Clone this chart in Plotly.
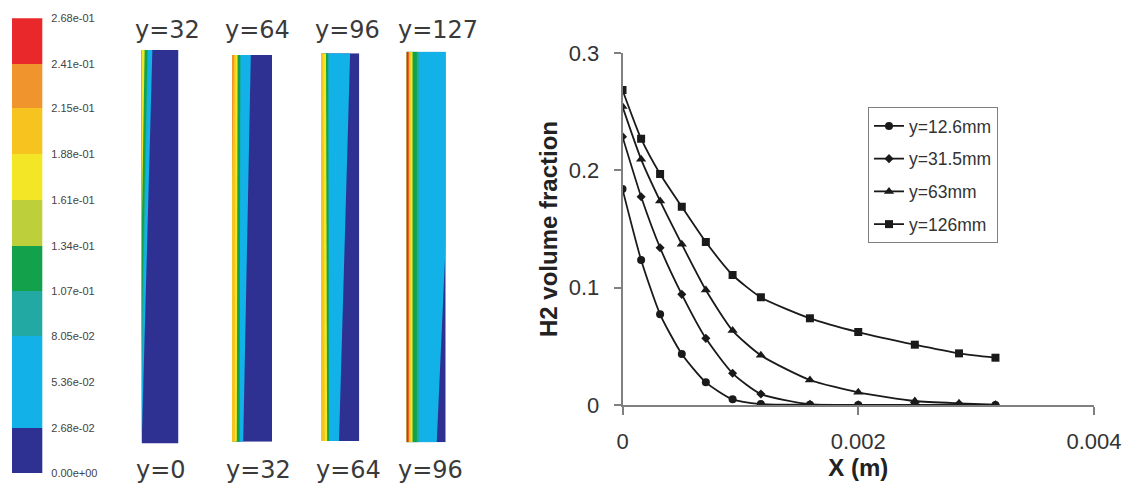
import plotly.graph_objects as go

# ---------------- colour scale (left) ----------------
level_values = [0.0, 0.0268, 0.0536, 0.0805, 0.107, 0.134, 0.161, 0.188, 0.215, 0.241, 0.268]
level_labels = ["0.00e+00", "2.68e-02", "5.36e-02", "8.05e-02", "1.07e-01", "1.34e-01",
                "1.61e-01", "1.88e-01", "2.15e-01", "2.41e-01", "2.68e-01"]
band_colors = ["#2E3192", "#12B2E9", "#12B2E9", "#22A9A3", "#13A24B", "#BDD03B",
               "#F3E626", "#F6C31F", "#F0952D", "#E8282B"]

# ---------------- contour strips ----------------
strip_top_labels = ["y=32", "y=64", "y=96", "y=127"]
strip_bottom_labels = ["y=0", "y=32", "y=64", "y=96"]
strip_y_bottom = [0, 32, 64, 96]
strip_y_top = [32, 64, 96, 127]
# each strip: band colour index (into band_colors), drawn back to front,
# and the band's right edge as a fraction of strip width at top / bottom
strip1_band = [2, 3, 4, 6]
strip1_edge_top = [0.29, 0.17, 0.155, 0.08]
strip1_edge_bottom = [0.0, -0.02, -0.06, -0.09]
strip2_band = [2, 4, 6, 7, 8]
strip2_edge_top = [0.47, 0.21, 0.14, 0.09, 0.05]
strip2_edge_bottom = [0.28, 0.19, 0.12, 0.07, -0.10]
strip3_band = [2, 4, 6, 7]
strip3_edge_top = [0.76, 0.19, 0.13, 0.06]
strip3_edge_bottom = [0.47, 0.21, 0.16, 0.10]
strip4_band = [2, 3, 4, 6, 7, 9]
strip4_edge_top = [1.22, 0.31, 0.26, 0.15, 0.10, 0.05]
strip4_edge_bottom = [0.77, 0.31, 0.26, 0.15, 0.10, 0.05]

# ---------------- H2 profiles (right) ----------------
x_m = [0, 0.000158, 0.000319, 0.000503, 0.000707, 0.000934, 0.001174,
       0.00159, 0.002, 0.00248, 0.002855, 0.003164]
h2_y12_6 = [0.184, 0.1236, 0.0773, 0.0435, 0.0193, 0.0048, 0.0008, 0.0002, 0, 0, 0, 0]
h2_y31_5 = [0.2287, 0.1775, 0.134, 0.0943, 0.0568, 0.027, 0.0094, 0.0006, 0.0001, 0, 0, 0]
h2_y63 = [0.2543, 0.2094, 0.1739, 0.137, 0.098, 0.0634, 0.0423, 0.0213, 0.0108, 0.0034, 0.0014, 0.0003]
h2_y126 = [0.2685, 0.227, 0.1969, 0.169, 0.1389, 0.1108, 0.0918, 0.0739, 0.0622, 0.0514, 0.044, 0.0403]
series_names = ["y=12.6mm", "y=31.5mm", "y=63mm", "y=126mm"]
series_values = [h2_y12_6, h2_y31_5, h2_y63, h2_y126]
series_symbols = ["circle", "diamond", "triangle-up", "square"]
x_ticks = [0, 0.002, 0.004]
x_tick_text = ["0", "0.002", "0.004"]
y_ticks = [0, 0.1, 0.2, 0.3]
y_tick_text = ["0", "0.1", "0.2", "0.3"]

W, H = 1130, 489
fig = go.Figure()

# ---- profile lines ----
sizes = [8, 7, 9, 8]
for name, vals, sym, sz in zip(series_names, series_values, series_symbols, sizes):
    fig.add_trace(go.Scatter(
        x=x_m, y=vals, name=name, mode="lines+markers",
        line=dict(color="#1a1a1a", width=1.8, shape="spline", smoothing=0.6),
        marker=dict(symbol=sym, size=sz, color="#1a1a1a"),
        legendgroup=name, xaxis="x", yaxis="y"))

# ---- strips ----
strips = [(strip1_band, strip1_edge_top, strip1_edge_bottom),
          (strip2_band, strip2_edge_top, strip2_edge_bottom),
          (strip3_band, strip3_edge_top, strip3_edge_bottom),
          (strip4_band, strip4_edge_top, strip4_edge_bottom)]
for i, (bands, etop, ebot) in enumerate(strips):
    ax = str(i + 2)
    yt, yb = strip_y_top[i], strip_y_bottom[i]
    fig.add_trace(go.Scatter(
        x=[0, 1, 1, 0], y=[yt, yt, yb, yb], fill="toself", mode="lines",
        line=dict(width=0), fillcolor=band_colors[0], showlegend=False,
        hoverinfo="skip", xaxis="x" + ax, yaxis="y" + ax))
    for b, et, eb in zip(bands, etop, ebot):
        fig.add_trace(go.Scatter(
            x=[-1, et, eb, -1], y=[yt, yt, yb, yb], fill="toself", mode="lines",
            line=dict(width=0), fillcolor=band_colors[b], showlegend=False,
            hoverinfo="skip", xaxis="x" + ax, yaxis="y" + ax))

# ---- colour bar ----
fig.add_trace(go.Bar(
    x=[0] * (len(level_values) - 1),
    y=[level_values[k + 1] - level_values[k] for k in range(len(level_values) - 1)],
    base=level_values[:-1], width=1,
    marker=dict(color=band_colors, line=dict(width=0)),
    showlegend=False, hoverinfo="skip", xaxis="x6", yaxis="y6"))

tick_font = dict(family="Liberation Sans, Arial", size=22, color="#333333")
title_font = dict(family="Liberation Sans, Arial", size=24, color="#222222", weight="bold")

layout = dict(
    width=W, height=H, margin=dict(l=0, r=0, t=0, b=0, autoexpand=False),
    paper_bgcolor="white", plot_bgcolor="white", showlegend=True,
    xaxis=dict(domain=[622.5 / W, 1094 / W], range=[0, 0.004], tickvals=x_ticks,
               ticktext=x_tick_text, showline=True, linecolor="#808080", linewidth=1.5,
               ticks="outside", ticklen=8, tickcolor="#808080", tickwidth=1.5,
               showgrid=False, zeroline=False, tickfont=tick_font, ticklabelstandoff=8,
               automargin=False,
               title=dict(text="X (m)", font=title_font, standoff=2), anchor="y"),
    yaxis=dict(domain=[(H - 405) / H, (H - 53) / H], range=[0, 0.3], tickvals=y_ticks,
               ticktext=y_tick_text, showline=True, linecolor="#808080", linewidth=1.5,
               ticks="outside", ticklen=7, tickcolor="#808080", tickwidth=1.5,
               showgrid=False, zeroline=False, tickfont=tick_font, ticklabelstandoff=10,
               automargin=False,
               title=dict(text="H2 volume fraction", font=title_font, standoff=4), anchor="x"),
    legend=dict(x=868 / W, y=1 - 107 / H, xanchor="left", yanchor="top",
                bordercolor="#808080", borderwidth=1, bgcolor="white",
                font=dict(family="Liberation Sans, Arial", size=17.5, color="#333333"),
                traceorder="grouped", tracegroupgap=7),
    bargap=0,
)

strip_px = [(141.7, 178.5, 50.0, 443.5), (232.0, 272.0, 55.0, 441.7),
            (321.0, 359.3, 53.3, 441.0), (406.7, 445.7, 51.7, 442.3)]
for i, (x0, x1, y0, y1) in enumerate(strip_px):
    ax = str(i + 2)
    layout["xaxis" + ax] = dict(domain=[x0 / W, x1 / W], range=[0, 1], visible=False,
                                anchor="y" + ax, fixedrange=True, automargin=False)
    layout["yaxis" + ax] = dict(domain=[(H - y1) / H, (H - y0) / H],
                                range=[strip_y_bottom[i], strip_y_top[i]],
                                visible=False, anchor="x" + ax, fixedrange=True,
                                automargin=False)

layout["xaxis6"] = dict(domain=[11.7 / W, 42.3 / W], range=[-0.5, 0.5], visible=False,
                        anchor="y6", automargin=False)
layout["yaxis6"] = dict(domain=[(H - 473.3) / H, (H - 18.3) / H], range=[0, 0.268],
                        side="right", anchor="x6", tickvals=level_values, ticktext=level_labels,
                        showline=False, showgrid=False, zeroline=False, ticks="",
                        ticklabelstandoff=8, automargin=False,
                        tickfont=dict(family="Liberation Sans, Arial", size=11, color="#444444"))

fig.update_layout(**layout)

# strip labels
label_font = dict(family="DejaVu Sans", size=24, color="#3a3a3a")
top_centers = [167.7, 257.5, 347.5, 438.0]
bottom_centers = [161.0, 258.0, 348.0, 430.0]
for txt, cx in zip(strip_top_labels, top_centers):
    fig.add_annotation(text=txt, x=cx / W, y=1 - 30 / H, xref="paper", yref="paper",
                       showarrow=False, xanchor="center", yanchor="middle", font=label_font)
for txt, cx in zip(strip_bottom_labels, bottom_centers):
    fig.add_annotation(text=txt, x=cx / W, y=1 - 470 / H, xref="paper", yref="paper",
                       showarrow=False, xanchor="center", yanchor="middle", font=label_font)

fig.write_html("out.html")
